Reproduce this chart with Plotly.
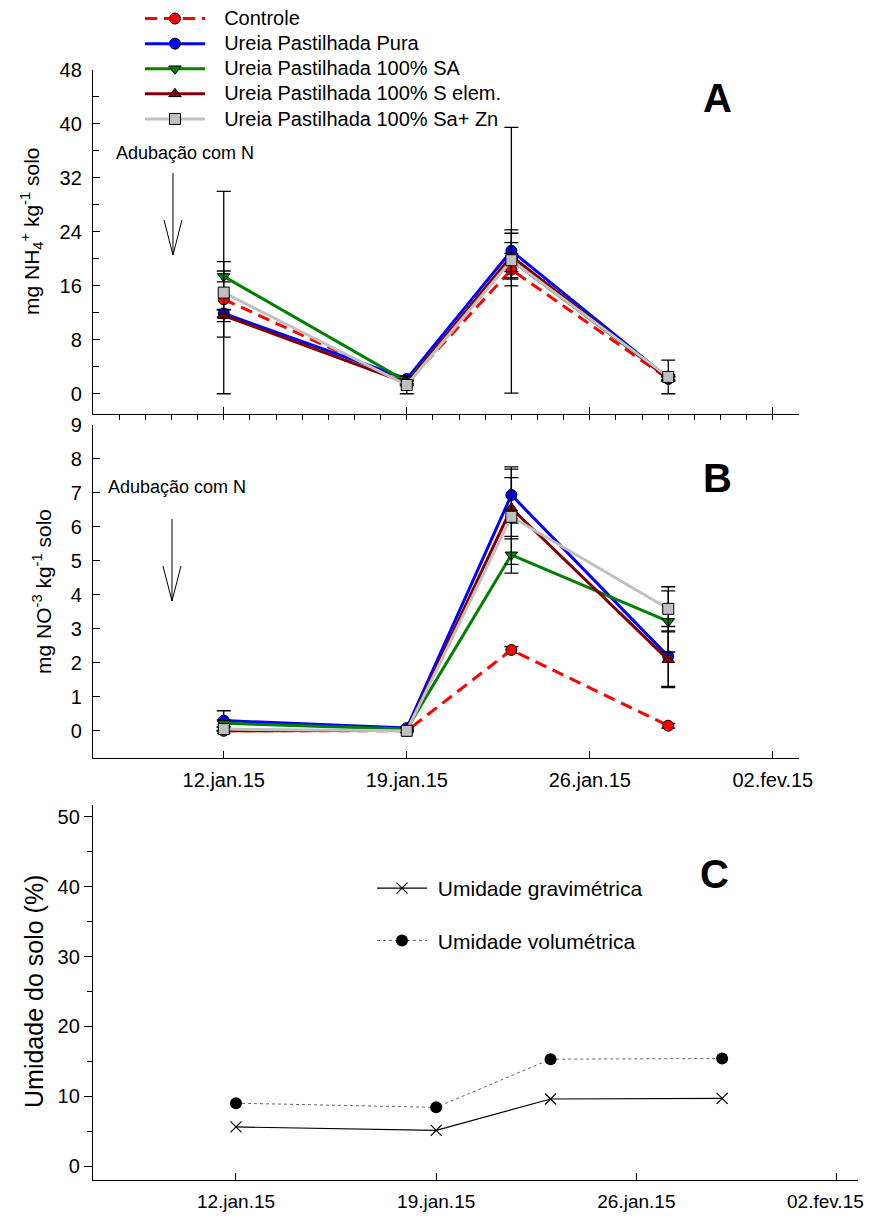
import plotly.graph_objects as go

W, H = 872, 1216          # browser window
OFF = 8                   # default page body margin
FW, FH = W, H             # figure size
FONT = "Arial, Liberation Sans, sans-serif"

# ---------------- data ----------------
dates = ["2015-01-12", "2015-01-19", "2015-01-23", "2015-01-29"]
series_names = [
    "Controle",
    "Ureia Pastilhada Pura",
    "Ureia Pastilhada 100% SA",
    "Ureia Pastilhada 100% S elem.",
    "Ureia Pastilhada 100% Sa+ Zn",
]

# Panel A: mg NH4+ kg-1 solo
nh4_controle = [14.0, 1.6, 18.4, 2.2]
nh4_pura = [11.9, 2.2, 21.2, 2.3]
nh4_sa = [17.4, 1.8, 19.8, 2.4]
nh4_selem = [11.6, 1.6, 20.4, 2.2]
nh4_sazn = [15.0, 1.3, 19.8, 2.5]
nh4_controle_err = [5.6, 0.4, 2.4, 0.3]
nh4_pura_err = [0.5, 0.3, 3.1, 0.3]
nh4_sa_err = [0.8, 0.3, 2.6, 0.4]
nh4_selem_err = [0.9, 0.3, 3.4, 0.3]
nh4_sazn_err = [15.0, 1.3, 19.7, 2.5]

# Panel B: mg NO3 kg-1 solo
no3_controle = [0.0, 0.0, 2.38, 0.15]
no3_pura = [0.30, 0.08, 6.94, 2.19]
no3_sa = [0.22, 0.05, 5.18, 3.22]
no3_selem = [0.0, 0.02, 6.55, 2.09]
no3_sazn = [0.05, 0.0, 6.30, 3.59]
no3_controle_err = [0.0, 0.0, 0.10, 0.07]
no3_pura_err = [0.29, 0.03, 0.83, 0.88]
no3_sa_err = [0.10, 0.03, 0.54, 0.90]
no3_selem_err = [0.0, 0.02, 0.90, 0.82]
no3_sazn_err = [0.05, 0.02, 1.40, 0.65]

# Panel C: soil moisture (%)
umid_names = ["Umidade gravimétrica", "Umidade volumétrica"]
umid_grav = [5.6, 5.1, 9.6, 9.7]
umid_vol = [9.0, 8.4, 15.3, 15.4]

tick_dates = ["2015-01-12", "2015-01-19", "2015-01-26", "2015-02-02"]
tick_labels = ["12.jan.15", "19.jan.15", "26.jan.15", "02.fev.15"]

# ---------------- styles ----------------
colors = ["#FF0000", "#0000FF", "#008000", "#800000", "#C0C0C0"]
symbols = ["circle", "circle", "triangle-down", "triangle-up", "square"]
dashes = ["12px,7px", "solid", "solid", "solid", "solid"]
NB = "\u00a0"


def px(x):
    return (x - OFF) / FW


def py(y):
    return 1 - (y - OFF) / FH


fig = go.Figure()

nh4 = [nh4_controle, nh4_pura, nh4_sa, nh4_selem, nh4_sazn]
nh4_err = [nh4_controle_err, nh4_pura_err, nh4_sa_err, nh4_selem_err, nh4_sazn_err]
no3 = [no3_controle, no3_pura, no3_sa, no3_selem, no3_sazn]
no3_err = [no3_controle_err, no3_pura_err, no3_sa_err, no3_selem_err, no3_sazn_err]


def style(i):
    return dict(
        mode="lines+markers",
        line=dict(color=colors[i], width=3, dash=dashes[i]),
        marker=dict(symbol=symbols[i], size=11, color=colors[i],
                    line=dict(color="black", width=1)),
    )


for i, name in enumerate(series_names):
    fig.add_trace(go.Scatter(
        x=dates, y=nh4[i],
        name=NB * 3 + '<span style="font-size:20px">%s</span>' % name,
        xaxis="x", yaxis="y", legend="legend",
        error_y=dict(type="data", array=nh4_err[i], color="black",
                     thickness=1.3, width=7),
        **style(i)))
for i, name in enumerate(series_names):
    fig.add_trace(go.Scatter(
        x=dates, y=no3[i], name=name, xaxis="x2", yaxis="y2", showlegend=False,
        error_y=dict(type="data", array=no3_err[i], color="black",
                     thickness=1.3, width=7),
        **style(i)))

fig.add_trace(go.Scatter(
    x=dates, y=umid_grav, name=NB + umid_names[0], xaxis="x3", yaxis="y3",
    legend="legend2", legendgroup="g1", mode="lines+markers",
    line=dict(color="black", width=1.2),
    marker=dict(symbol="x-thin-open", size=11, color="black",
                line=dict(color="black", width=1.2)),
))
fig.add_trace(go.Scatter(
    x=dates, y=umid_vol, name=NB + umid_names[1], xaxis="x3", yaxis="y3",
    legend="legend2", legendgroup="g2", mode="lines+markers",
    line=dict(color="#666666", width=1, dash="dot"),
    marker=dict(symbol="circle", size=12, color="black"),
))

axis_common = dict(showline=True, linecolor="black", linewidth=1.3,
                   showgrid=False, zeroline=False, mirror=False,
                   automargin=False,
                   tickcolor="black", tickwidth=1.2,
                   tickfont=dict(family=FONT, size=20, color="black"))

xdom_ab = [px(93), px(799)]
xdom_c = [px(93), px(858)]

fig.update_layout(
    width=FW, height=FH,
    margin=dict(l=0, r=0, t=0, b=0, pad=0, autoexpand=False),
    paper_bgcolor="white", plot_bgcolor="white",
    font=dict(family=FONT, color="black"),
    showlegend=True,
    xaxis=dict(domain=xdom_ab, anchor="y", type="date",
               range=["2015-01-07", "2015-02-03"],
               tickvals=tick_dates, ticktext=tick_labels, showticklabels=False,
               ticks="inside", ticklen=7,
               minor=dict(ticks="outside", ticklen=5, dtick=86400000,
                          tick0="2015-01-07", tickcolor="black", tickwidth=1.2),
               **axis_common),
    yaxis=dict(domain=[py(414), py(70)], anchor="x", range=[-3, 48],
               tickvals=[0, 8, 16, 24, 32, 40, 48], ticks="inside", ticklen=7,
               ticklabelstandoff=6,
               minor=dict(ticks="inside", ticklen=6, dtick=4, tick0=0,
                          tickcolor="black", tickwidth=1.2),
               **axis_common),
    xaxis2=dict(domain=xdom_ab, anchor="y2", type="date",
                range=["2015-01-07", "2015-02-03"],
                tickvals=tick_dates, ticktext=tick_labels,
                ticks="inside", ticklen=7, ticklabelstandoff=4,
                ticklabeloverflow="allow",
                **axis_common),
    yaxis2=dict(domain=[py(758), py(425)], anchor="x2", range=[-0.8, 9],
                tickvals=list(range(0, 10)), ticks="inside", ticklen=7,
                ticklabelstandoff=6,
                **axis_common),
    xaxis3=dict(domain=xdom_c, anchor="y3", type="date",
                range=["2015-01-07", "2015-02-02 18:00"],
                tickvals=tick_dates, ticktext=tick_labels[:-1] + [""],
                ticks="inside", ticklen=7, ticklabelstandoff=4,
                ticklabeloverflow="allow",
                showline=True, linecolor="black", linewidth=1.3,
                showgrid=False, zeroline=False, mirror=False,
                automargin=False, tickcolor="black", tickwidth=1.2,
                tickfont=dict(family=FONT, size=19, color="black")),
    yaxis3=dict(domain=[py(1180), py(805)], anchor="x3", range=[-2, 51.7],
                tickvals=[0, 10, 20, 30, 40, 50], ticks="outside", ticklen=8,
                minor=dict(ticks="outside", ticklen=5, dtick=5, tick0=0,
                           tickcolor="black", tickwidth=1.2),
                **axis_common),
    legend=dict(x=px(140), y=py(1), xanchor="left", yanchor="top",
                bgcolor="rgba(0,0,0,0)", borderwidth=0,
                font=dict(family=FONT, size=17, color="black"),
                itemwidth=60, tracegroupgap=0),
    legend2=dict(x=px(372), y=py(868), xanchor="left", yanchor="top",
                 bgcolor="rgba(0,0,0,0)", borderwidth=0,
                 font=dict(family=FONT, size=21, color="black"),
                 itemwidth=50, tracegroupgap=22),
)

ann = []
for letter, x, y in [("A", 717, 98), ("B", 717, 478), ("C", 714, 874)]:
    ann.append(dict(text="<b>%s</b>" % letter, x=px(x), y=py(y), xref="paper",
                    yref="paper", xanchor="center", yanchor="middle",
                    showarrow=False, font=dict(family=FONT, size=40, color="black")))
for x, y in [(114, 153), (106, 487)]:
    ann.append(dict(text="Adubação com N", x=px(x), y=py(y), xref="paper",
                    yref="paper", xanchor="left", yanchor="middle",
                    showarrow=False, font=dict(family=FONT, size=18, color="black")))
ann.append(dict(text="mg NH<sub>4</sub><sup>+</sup> kg<sup>-1</sup> solo",
                x=px(31), y=py(231), xref="paper", yref="paper", textangle=-90,
                xanchor="center", yanchor="middle", showarrow=False,
                font=dict(family=FONT, size=21, color="black")))
ann.append(dict(text="mg NO<sup>-3</sup> kg<sup>-1</sup> solo",
                x=px(42), y=py(592), xref="paper", yref="paper", textangle=-90,
                xanchor="center", yanchor="middle", showarrow=False,
                font=dict(family=FONT, size=21, color="black")))
ann.append(dict(text="Umidade do solo (%)",
                x=px(34), y=py(992), xref="paper", yref="paper", textangle=-90,
                xanchor="center", yanchor="middle", showarrow=False,
                font=dict(family=FONT, size=25, color="black")))
# last date label of panel C, kept inside the window
ann.append(dict(text=tick_labels[-1], x=px(866), y=py(1201), xref="paper",
                yref="paper", xanchor="right", yanchor="middle",
                showarrow=False, font=dict(family=FONT, size=19, color="black")))
fig.update_layout(annotations=ann)

shapes = []
for (ax, top, tip, base) in [(173, 173, 255, 220), (172, 519, 601, 566)]:
    path = "M %f,%f L %f,%f M %f,%f L %f,%f L %f,%f" % (
        px(ax), py(top), px(ax), py(tip),
        px(ax - 9), py(base), px(ax), py(tip), px(ax + 9), py(base))
    shapes.append(dict(type="path", path=path, xref="paper", yref="paper",
                       line=dict(color="black", width=1)))
fig.update_layout(shapes=shapes)

fig.write_html("out.html")
